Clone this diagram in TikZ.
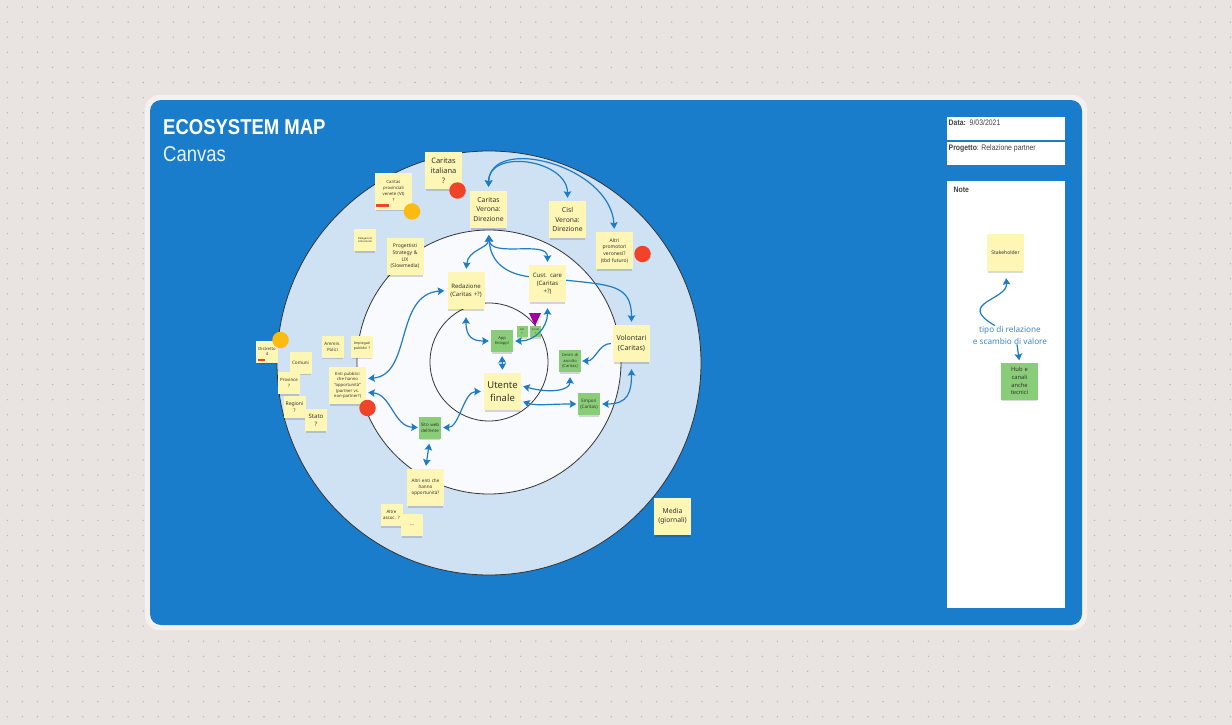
\documentclass[tikz,border=0pt]{standalone}
\usepackage{fontspec}
\usetikzlibrary{arrows.meta,shadows}
\setmainfont{Noto Sans}
\newfontfamily\titlefont[FakeStretch=0.86]{Liberation Sans}
\newcommand{\fs}[1]{\fontsize{#1}{\dimexpr#1pt*4/3\relax}\selectfont}

\definecolor{paper}{HTML}{E9E4E2}
\definecolor{griddot}{HTML}{BDB8B6}
\definecolor{halo}{HTML}{F3F0EE}
\definecolor{canvasblue}{HTML}{1A7DCC}
\definecolor{ringblue}{HTML}{CFE2F4}
\definecolor{ringwhite}{HTML}{F8FAFD}
\definecolor{noteyellow}{HTML}{FEF6B4}
\definecolor{notegreen}{HTML}{8ACD78}
\definecolor{linkblue}{HTML}{1F7CC4}
\definecolor{legendblue}{HTML}{3A8CCB}
\definecolor{dotred}{HTML}{F0442A}
\definecolor{dotyellow}{HTML}{FDBB11}

\tikzset{
  >={Stealth[length=6.5pt,width=7.5pt,inset=1pt]},
  sticky/.style={rectangle,fill=noteyellow,text=black!80,inner sep=0pt,align=center,
    minimum size=37pt,text width=36pt,
    drop shadow={shadow xshift=0pt,shadow yshift=-2.6pt,shadow scale=.95,fill=black,opacity=.15}},
  small/.style={minimum size=22pt,text width=21pt},
  hubnote/.style={sticky,small,fill=notegreen},
  ring/.style={draw=black!80,line width=.8pt},
  link/.style={draw=linkblue,line width=1.2pt},
  panelbox/.style={rectangle,fill=white,inner sep=0pt,minimum width=118pt},
  paneltext/.style={font=\titlefont\fontsize{8}{10}\selectfont,text=black!75,inner sep=0pt,anchor=north west},
  reddot/.style={circle,fill=dotred,minimum size=16.5pt,inner sep=0pt},
  yellowdot/.style={circle,fill=dotyellow,minimum size=16.5pt,inner sep=0pt},
  tagbox/.style={rectangle,fill=dotred,inner sep=0pt,minimum width=7pt,minimum height=2pt,anchor=south west}
}

\pgfdeclarelayer{back}
\pgfdeclarelayer{wires}
\pgfsetlayers{back,wires,main}

\begin{document}
\begin{tikzpicture}[x=1pt,y=-1pt]
\useasboundingbox (0,0) rectangle (1232,725);

\begin{pgfonlayer}{back}
\fill[paper] (0,0) rectangle (1232,725);
\foreach \i in {0,...,81}
  \foreach \j in {0,...,47}
    \fill[griddot] (7.3+15.1*\i,7+15.1*\j) circle (.8);
\fill[halo,rounded corners=14pt] (145,95) rectangle (1087,630);
\fill[canvasblue,rounded corners=11pt] (150,100) rectangle (1082,625);
\filldraw[ring,fill=ringblue] (489,363) circle (212);
\filldraw[ring,fill=ringwhite] (489,362) circle (132);
\filldraw[ring,fill=ringwhite] (489,362) circle (59);
\end{pgfonlayer}

% titolo
\node[anchor=west,inner sep=0pt,text=white,font=\titlefont\bfseries\fontsize{21.5}{24}\selectfont] (title) at (163,127) {ECOSYSTEM MAP};
\node[anchor=west,inner sep=0pt,text=white!90!canvasblue,font=\titlefont\fontsize{21.5}{24}\selectfont] (subtitle) at (163,154.5) {Canvas};

% pannelli a destra
\node[panelbox,minimum height=23pt] (databox) at (1006,128.5) {};
\node[panelbox,minimum height=23pt] (projectbox) at (1006,153.5) {};
\node[panelbox,minimum height=427pt] (notebox) at (1006,394.5) {};
\node[paneltext] (datatext) at (948.5,120) {\textbf{Data:}\ \ 9/03/2021};
\node[paneltext] (projecttext) at (948.5,144.5) {\textbf{Progetto}: Relazione partner};
\node[paneltext] (notetext) at (953.5,187) {\textbf{Note}};

% anello esterno
\node[sticky,font=\fs{7.5}] (caritasit) at (443.5,170.5) {Caritas\\italiana\\?};
\node[sticky,font=\fs{4.3}] (provinciali) at (393.5,191) {Caritas\\provinciali\\venete (VI)\\?};
\node[sticky,font=\fs{6.8}] (verona) at (488.5,209.5) {Caritas\\Verona:\\Direzione};
\node[sticky,font=\fs{6.8}] (cisl) at (567.5,219.5) {Cisl\\Verona:\\Direzione};
\node[sticky,font=\fs{5}] (altri) at (614.5,250.5) {Altri\\promotori\\veronesi?\\(tbd futuro)};
\node[sticky,small,font=\fs{2.6}] (delegazioni) at (365,240) {Delegazioni\\istituzionali};
\node[sticky,font=\fs{5}] (progettisti) at (405,256.5) {Progettisti\\Strategy \&\\UX\\(Slowmedia)};
\node[sticky,small,font=\fs{4.4}] (ammin) at (332.5,346.5) {Ammin.\\Polici};
\node[sticky,small,font=\fs{3.6}] (impiegati) at (362,346.5) {Impiegati\\pubblici ?};
\node[sticky,small,font=\fs{4.2}] (distretto) at (267,351.5) {Distretto\\4};
\node[sticky,small,font=\fs{4.6}] (comuni) at (300.5,362.5) {Comuni};
\node[sticky,small,font=\fs{4.4}] (province) at (289,383) {Province\\?};
\node[sticky,small,font=\fs{5}] (regioni) at (294.5,407) {Regioni\\?};
\node[sticky,small,font=\fs{6}] (stato) at (316,420) {Stato\\?};
\node[sticky,font=\fs{4.2}] (enti) at (347.5,385.5) {Enti pubblici\\che hanno\\``opportunità''\\(partner vs.\\non-partner?)};
\node[sticky,font=\fs{4.6}] (altrienti) at (425.5,487.5) {Altri enti che\\hanno\\opportunità?};
\node[sticky,small,font=\fs{4.4}] (assoc) at (391.5,515) {Altre\\assoc. ?};
\node[sticky,small,font=\fs{5}] (puntini) at (412,525) {...};
\node[sticky,font=\fs{6.8}] (media) at (672.5,516.5) {Media\\(giornali)};

% anello medio e centro
\node[sticky,font=\fs{6}] (redazione) at (466,290.5) {Redazione\\(Caritas +?)};
\node[sticky,font=\fs{6}] (custcare) at (547.5,283.5) {Cust. care\\(Caritas\\+?)};
\node[sticky,font=\fs{7}] (volontari) at (631.5,343.5) {Volontari\\(Caritas)};
\node[sticky,font=\fs{9.5}] (utente) at (502.5,391.5) {Utente\\finale};
\node[hubnote,font=\fs{4}] (app) at (502,341) {App\\Enlapp!};
\node[hubnote,font=\fs{2.6},minimum size=11pt,text width=10pt] (vol) at (522,331.5) {Vol\\?};
\node[hubnote,font=\fs{2.6},minimum size=11pt,text width=10pt] (social) at (535.5,331.5) {Social\\?};
\node[hubnote,font=\fs{4}] (centri) at (570,361) {Centri di\\ascolto\\(Caritas)};
\node[hubnote,font=\fs{4.5}] (empori) at (589,404) {Empori\\(Caritas)};
\node[hubnote,font=\fs{4.5}] (sito) at (430,427.5) {Sito web\\dell'ente};

% legenda
\node[sticky,font=\fs{5}] (stakeholder) at (1005.5,252.5) {Stakeholder};
\node[sticky,fill=notegreen,font=\fs{5.8}] (hub) at (1019.5,381) {Hub e\\canali\\anche\\tecnici};
\node[inner sep=0pt,align=center,text=legendblue,font=\fontsize{8.2}{12}\selectfont] (legendtext) at (1010,335) {tipo di relazione\\e scambio di valore};

% pallini e segni
\node[reddot] (redit) at (457.5,190.5) {};
\node[reddot] (redaltri) at (642.5,254) {};
\node[reddot] (redenti) at (367.5,408) {};
\node[yellowdot] (yelprov) at (412,211.5) {};
\node[yellowdot] (yeldist) at (280.5,340) {};
\node[tagbox,minimum width=13pt,minimum height=3pt] (tagprov) at ([shift={(1pt,2.5pt)}]provinciali.south west) {};
\node[tagbox] (tagdist) at ([shift={(1.5pt,1.5pt)}]distretto.south west) {};
\fill[violet!75!magenta] (529,313) -- (541,313) -- (535,326) -- cycle;

\begin{pgfonlayer}{wires}
\draw[link,<->,shorten <=4pt,shorten >=3pt] (verona.north) .. controls +(0,-43) and +(0,-41) .. (cisl.north);
\draw[link,<->,shorten <=4pt,shorten >=3pt] (verona.north) .. controls +(1.5,-56) and +(-4.5,-67) .. (altri.north);
\draw[link,<->,shorten <=7pt,shorten >=3pt] (verona.south) .. controls +(0,20) and +(2,-22) .. (redazione.north);
\draw[link,<->,shorten <=7pt,shorten >=3pt] (verona.south) .. controls +(2,30) and +(0,-25) .. (custcare.north);
\draw[link,<-,shorten <=7pt] (verona.south) .. controls +(2,35) and +(-22,-3) .. (custcare.160);
\draw[link,->,shorten >=3pt] (custcare.10) .. controls +(45,5) and +(0,-40) .. (volontari.north);
\draw[link,<->,shorten <=2pt,shorten >=3pt] (enti.20) .. controls +(46,-4) and +(-53,4) .. (redazione.west);
\draw[link,<->,shorten <=8pt,shorten >=2pt] (redazione.south) .. controls +(0,28) and +(-18,0) .. (app.west);
\draw[link,<->,shorten <=4pt,shorten >=3pt] (app.south) -- (utente.north);
\draw[link,<->,shorten <=2pt,shorten >=5pt] (utente.17) .. controls +(30,8) and +(0,18) .. (centri.south);
\draw[link,<->,shorten <=2pt,shorten >=1.5pt] (utente.-27) .. controls +(15,5) and +(-30,0) .. (empori.west);
\draw[link,->,shorten <=2pt,shorten >=1pt] (volontari.west) .. controls +(-14,0) and +(14,0) .. (centri.east);
\draw[link,<->,shorten <=2pt,shorten >=7pt] (empori.east) .. controls +(28,0) and +(0,30) .. (volontari.south);
\draw[link,<->,shorten <=2pt,shorten >=3pt] (sito.east) .. controls +(18,0) and +(-20,0) .. (utente.west);
\draw[link,<->,shorten <=2pt,shorten >=1pt] (enti.-20) .. controls +(25,2) and +(-25,-1) .. (sito.west);
\draw[link,<->,shorten <=5pt,shorten >=3pt] (sito.south) -- (altrienti.north);
\end{pgfonlayer}
\draw[link,<->,shorten <=2pt,shorten >=6pt] (app.east) .. controls +(22,0) and +(0,25) .. (custcare.south);
\draw[link,->,shorten >=7pt] ([xshift=-15pt]legendtext.north) .. controls +(-40,-23) and +(2.5,29) .. (stakeholder.south);
\draw[link,->,shorten >=2pt] ([xshift=7pt]legendtext.south) -- (hub.north);

\end{tikzpicture}
\end{document}
